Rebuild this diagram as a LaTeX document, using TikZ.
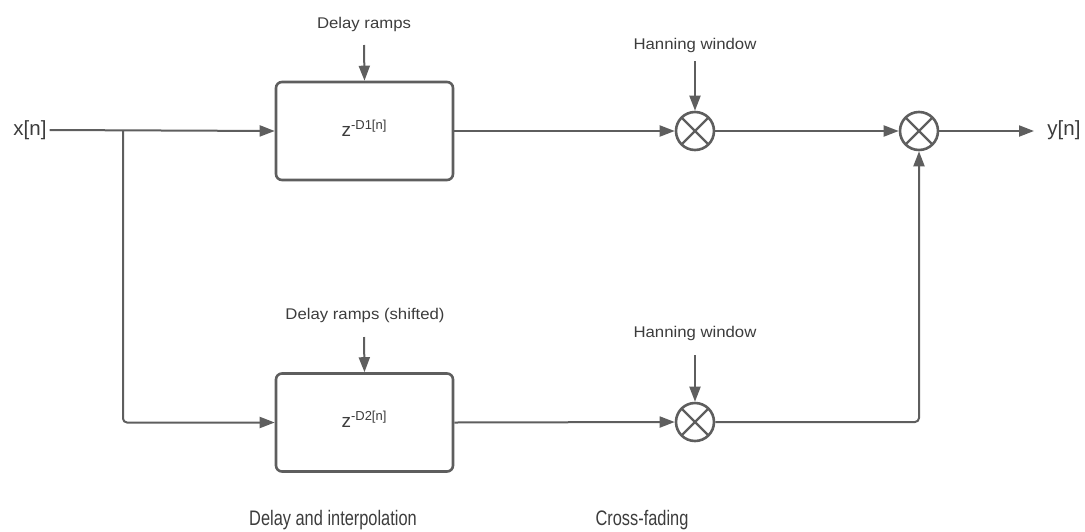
\documentclass[tikz,border=0pt]{standalone}
\usepackage{fontspec}
\setmainfont{Liberation Sans}
\newfontfamily\narrowfont[FakeStretch=0.78]{Liberation Sans}
\newfontfamily\widefont[FakeStretch=1.08]{Liberation Sans}
\usetikzlibrary{arrows.meta,calc}
\definecolor{wire}{HTML}{5E5E5E}
\definecolor{ink}{HTML}{3C3C3C}
\tikzset{
  wireline/.style={draw=wire, line width=2pt},
  flow/.style={wireline, -{Triangle[length=15pt,width=11pt]}},
  delaybox/.style={draw=wire, line width=2.6pt, rounded corners=6pt, minimum width=177pt, minimum height=98pt, inner sep=0pt},
  mixer/.style={circle, draw=wire, line width=2.6pt, minimum size=38pt, inner sep=0pt,
    path picture={\draw[wire, line width=2.4pt]
      (path picture bounding box.south west) -- (path picture bounding box.north east)
      (path picture bounding box.north west) -- (path picture bounding box.south east);}},
  signal/.style={text=ink, font=\fontsize{20.5}{24}\selectfont, inner sep=3pt},
  ctrl/.style={text=ink, font=\widefont\fontsize{15.5}{18}\selectfont, inner sep=0pt},
  stage/.style={text=ink, font=\narrowfont\fontsize{21}{25}\selectfont, inner sep=0pt},
}
\newcommand{\zdelay}[1]{\fontsize{19}{22}\selectfont z\raisebox{7pt}{\fontsize{13}{15}\selectfont -#1[n]}}
\begin{document}
\begin{tikzpicture}[x=1pt, y=-1pt]
\useasboundingbox (0,0) rectangle (1085,531);

% delay lines
\node[delaybox] (d1) at (364.5,131) {};
\node[delaybox] (d2) at (364.5,422.5) {};
\node[text=ink] at (364,128) {\zdelay{D1}};
\node[text=ink] at (364,419) {\zdelay{D2}};

% multipliers
\node[mixer] (m1) at (695,131) {};
\node[mixer] (m2) at (695,422) {};
\node[mixer] (m3) at (919,131) {};

% signal labels
\node[signal] (xin) at (30,130) {x[n]};
\node[signal] (yout) at (1064,130) {y[n]};
\coordinate (yend) at (1034,131);

% control labels
\node[ctrl] (ramp1) at (364,24) {Delay ramps};
\node[ctrl] (ramp2) at (365,315) {Delay ramps (shifted)};
\node[ctrl] (win1) at (695,45) {Hanning window};
\node[ctrl] (win2) at (695,333) {Hanning window};
\coordinate (ramp1s) at (364,45);
\coordinate (ramp2s) at (364,337);
\coordinate (win1s) at (695,61);
\coordinate (win2s) at (695,355);

% stage captions
\node[stage] (cap1) at (333,520) {Delay and interpolation};
\node[stage] (cap2) at (642,520) {Cross-fading};

% input split
\coordinate (split) at (123,131);
\draw[flow] (xin.east) -- (d1.west);
\draw[flow, rounded corners=4pt] (split) |- (d2.west);

% controls
\draw[flow] (ramp1s) -- (d1.north);
\draw[flow] (ramp2s) -- (d2.north);
\draw[flow] (win1s) -- (m1.north);
\draw[flow] (win2s) -- (m2.north);

% windowing and cross-fade
\draw[flow] (d1.east) -- (m1.west);
\draw[flow] (d2.east) -- (m2.west);
\draw[flow] (m1.east) -- (m3.west);
\draw[flow, rounded corners=4pt] (m2.east) -| (m3.south);
\draw[flow] (m3.east) -- (yend);
\end{tikzpicture}
\end{document}
